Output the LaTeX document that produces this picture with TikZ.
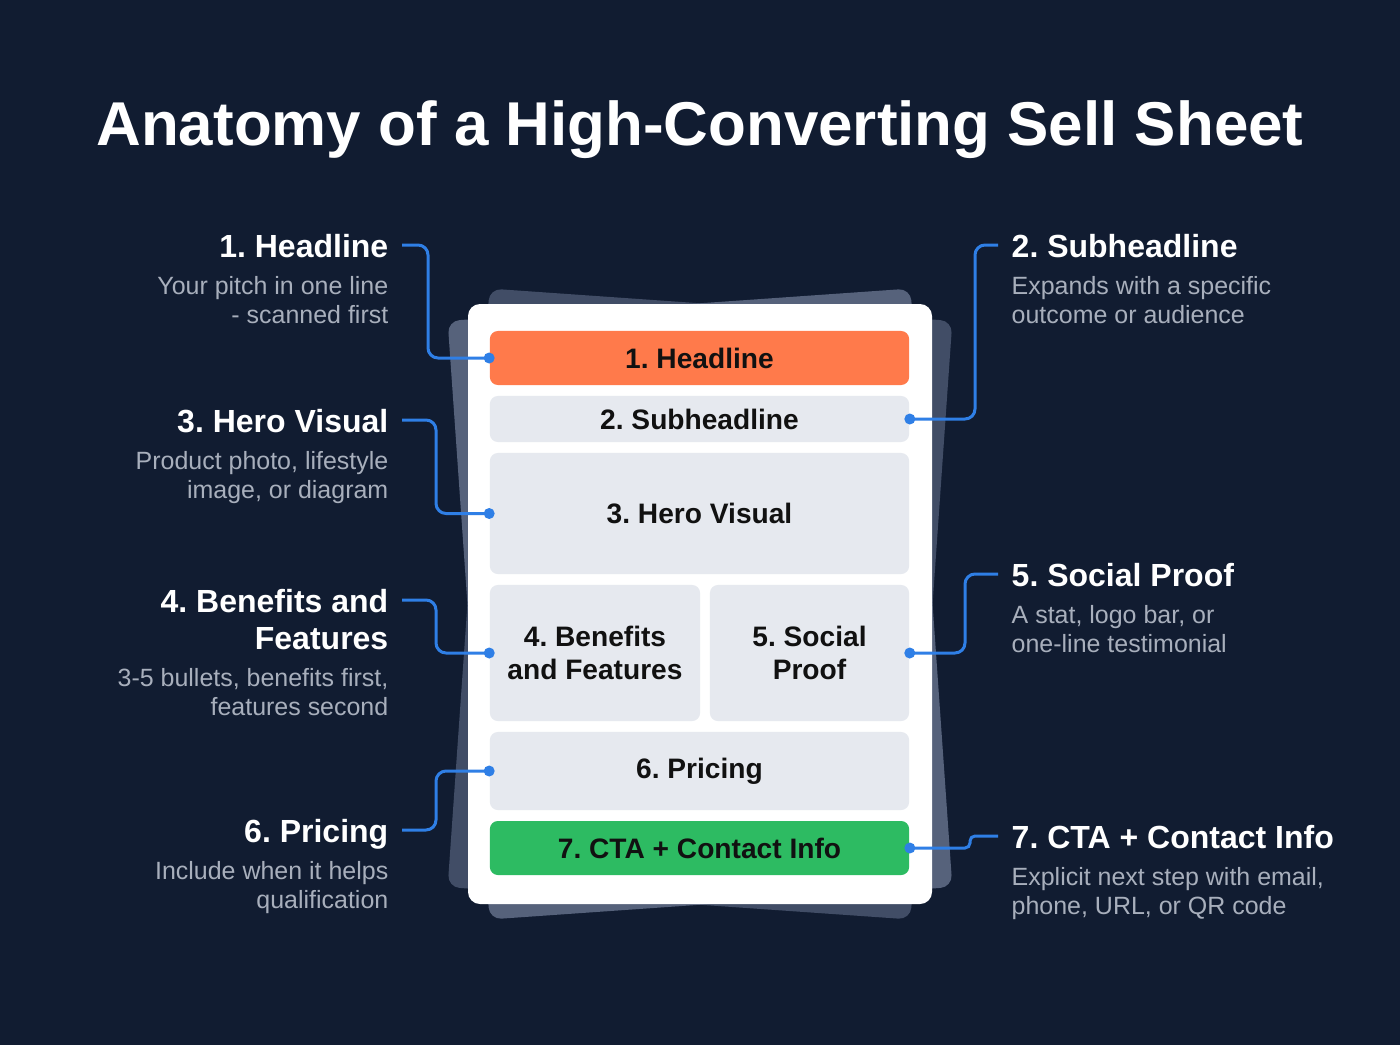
\documentclass[tikz,border=0pt]{standalone}
\usepackage{fontspec}
\setmainfont{Liberation Sans}
\usetikzlibrary{positioning}
\frenchspacing

\definecolor{pagebg}{HTML}{111C31}
\definecolor{sheetback}{HTML}{414D66}
\definecolor{sheetfront}{HTML}{56627B}
\definecolor{headorange}{HTML}{FF7A4B}
\definecolor{blockgray}{HTML}{E6E9EF}
\definecolor{ctagreen}{HTML}{2DBB62}
\definecolor{linkblue}{HTML}{2F7FE6}
\definecolor{notegray}{HTML}{A8AFBC}
\definecolor{inkdark}{HTML}{111111}

\begin{document}
\begin{tikzpicture}[x=0.01cm, y=-0.01cm,
    block/.style={fill=blockgray, rounded corners=0.08cm, minimum width=4.19cm,
      inner sep=0, align=center, text=inkdark,
      font=\bfseries\fontsize{8.0}{9.4}\selectfont},
    heading/.style={text=white, inner sep=0, text height=0.72em, text depth=0pt,
      font=\bfseries\fontsize{9.1}{10.6}\selectfont},
    note/.style={text=notegray, inner sep=0,
      font=\fontsize{7.1}{8.25}\selectfont},
    link/.style={draw=linkblue, line width=0.85pt, rounded corners=0.1cm},
    dot/.style={circle, fill=linkblue, inner sep=0, minimum size=0.11cm}
  ]

  % Page and title
  \fill[pagebg] (0,0) rectangle (1400,1045);
  \useasboundingbox (0,0) rectangle (1400,1045);
  \node[text=white, inner sep=0, anchor=base, font=\bfseries\fontsize{17.6}{21}\selectfont]
    (title) at (700,145) {Anatomy of a High-Converting Sell Sheet};

  % Sheet stack
  \fill[sheetback, rounded corners=0.12cm, rotate around={-4:(700,604)}]
    (468,304) rectangle (932,904);
  \fill[sheetfront, rounded corners=0.12cm, rotate around={4:(700,604)}]
    (468,304) rectangle (932,904);
  \fill[white, rounded corners=0.12cm] (468,304) rectangle (932,904);

  % Sell sheet blocks
  \node[block, fill=headorange, minimum height=0.54cm] (b1) at (699.5,358) {1. Headline};
  \node[block, minimum height=0.46cm] (b2) at (699.5,419) {2. Subheadline};
  \node[block, minimum height=1.21cm] (b3) at (699.5,513.5) {3. Hero Visual};
  \node[block, minimum width=2.10cm, minimum height=1.36cm] (b4) at (595,653)
    {4. Benefits\\and Features};
  \node[block, minimum width=1.99cm, minimum height=1.36cm] (b5) at (809.5,653)
    {5. Social\\Proof};
  \node[block, minimum height=0.78cm] (b6) at (699.5,771) {6. Pricing};
  \node[block, fill=ctagreen, minimum height=0.54cm] (b7) at (699.5,848) {7. CTA + Contact Info};

  % Left labels
  \node[heading, anchor=east] (h1) at (389,245) {1. Headline};
  \node[note, below=0.17cm of h1.south east, anchor=north east, align=right] (n1)
    {Your pitch in one line\\- scanned first};
  \node[heading, anchor=east] (h3) at (389,420) {3. Hero Visual};
  \node[note, below=0.17cm of h3.south east, anchor=north east, align=right] (n3)
    {Product photo, lifestyle\\image, or diagram};
  \node[heading, anchor=east] (h4) at (389,600) {4. Benefits and};
  \node[heading, anchor=east] (h4b) at (389,637) {Features};
  \node[note, below=0.17cm of h4b.south east, anchor=north east, align=right] (n4)
    {3-5 bullets, benefits first,\\features second};
  \node[heading, anchor=east] (h6) at (389,830) {6. Pricing};
  \node[note, below=0.17cm of h6.south east, anchor=north east, align=right] (n6)
    {Include when it helps\\qualification};

  % Right labels
  \node[heading, anchor=west] (h2) at (1011,245) {2. Subheadline};
  \node[note, below=0.17cm of h2.south west, anchor=north west, align=left] (n2)
    {Expands with a specific\\outcome or audience};
  \node[heading, anchor=west] (h5) at (1011,574) {5. Social Proof};
  \node[note, below=0.17cm of h5.south west, anchor=north west, align=left] (n5)
    {A stat, logo bar, or\\one-line testimonial};
  \node[heading, anchor=west] (h7) at (1011,836) {7. CTA + Contact Info};
  \node[note, below=0.17cm of h7.south west, anchor=north west, align=left] (n7)
    {Explicit next step with email,\\phone, URL, or QR code};

  % Connectors
  \draw[link] ([xshift=0.13cm]h1.east) -- ++(26,0) |- (b1.west);
  \draw[link] ([xshift=0.13cm]h3.east) -- ++(34,0) |- (b3.west);
  \draw[link] ([xshift=0.13cm]h4.east) -- ++(34,0) |- (b4.west);
  \draw[link] ([xshift=0.13cm]h6.east) -- ++(34,0) |- (b6.west);
  \draw[link] ([xshift=-0.13cm]h2.west) -- ++(-23,0) |- (b2.east);
  \draw[link] ([xshift=-0.13cm]h5.west) -- ++(-33,0) |- (b5.east);
  \draw[link, rounded corners=0.05cm] ([xshift=-0.13cm]h7.west) -- ++(-28,0) |- (b7.east);

  % Anchor dots
  \node[dot] (d1) at (b1.west) {};
  \node[dot] (d3) at (b3.west) {};
  \node[dot] (d4) at (b4.west) {};
  \node[dot] (d6) at (b6.west) {};
  \node[dot] (d2) at (b2.east) {};
  \node[dot] (d5) at (b5.east) {};
  \node[dot] (d7) at (b7.east) {};

\end{tikzpicture}
\end{document}
